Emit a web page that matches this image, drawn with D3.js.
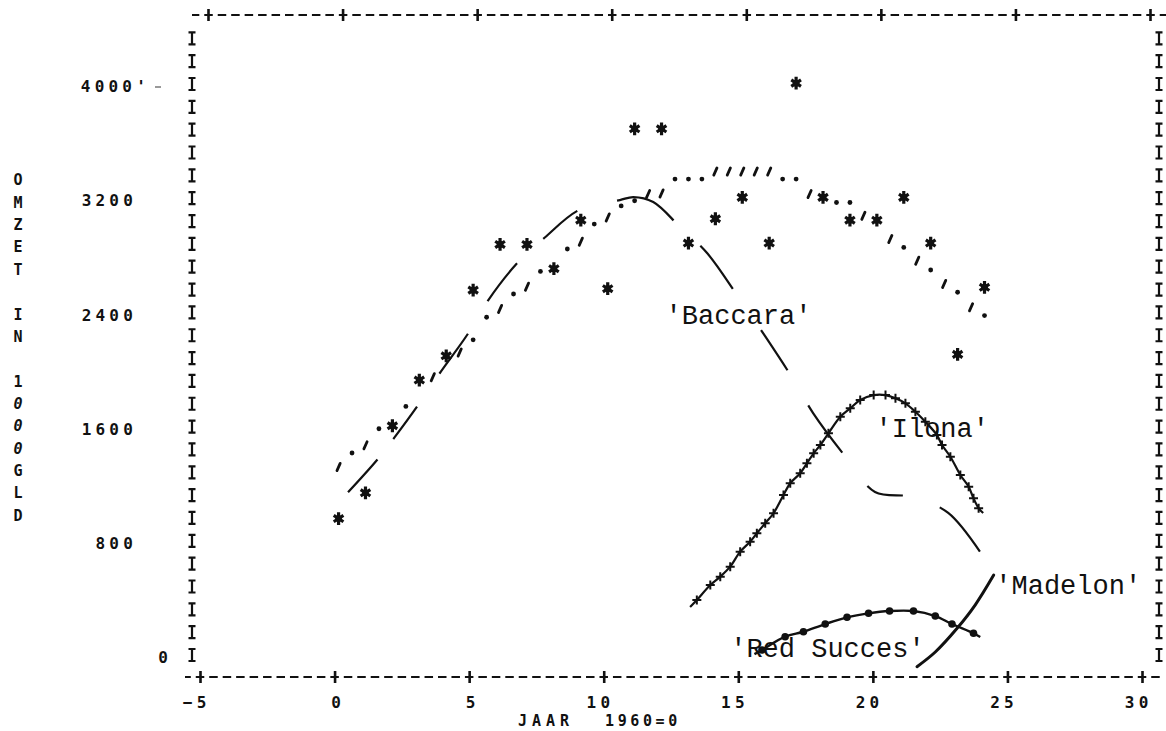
<!DOCTYPE html>
<html>
<head>
<meta charset="utf-8">
<script src="https://cdn.jsdelivr.net/npm/d3@7"></script>
<style>
  body { margin: 0; background: #fff; }
  svg { display: block; }
  .ax text { font-family: "DejaVu Sans Mono", monospace; font-weight: bold; font-size: 16px; letter-spacing: 4.2px; fill: #111; }
  .lbl { font-family: "Liberation Mono", "Courier New", monospace; font-size: 27px; fill: #111; white-space: pre; }
</style>
</head>
<body>
<svg id="chart" width="1166" height="731"></svg>
<script>
// Turnover (x 1000 guilders) per year since 1960: observed Baccara sales,
// the fitted Baccara trend, and the curves for Ilona, Madelon and Red Succes.

const yearTicks = [-5, 0, 5, 10, 15, 20, 25, 30];
const valueTicks = [0, 800, 1600, 2400, 3200, 4000];
const valueTickLabels = ["0", "800", "1600", "2400", "3200", "4000'"];
const titleChars = ["O", "M", "Z", "E", "T", "", "I", "N", "", "1", "0", "0", "0", "G", "L", "D"];
const xTitleWords = ["JAAR", "1960=0"];

// observed yearly turnover, printed as stars
const salesYears  = [0, 1, 2, 3, 4, 5, 6, 7, 8, 9, 10, 11, 12, 13, 14, 15, 16, 17, 18, 19, 20, 21, 22, 23, 24];
const salesValues = [970, 1150, 1620, 1940, 2110, 2570, 2890, 2890, 2720, 3060, 2580, 3700, 3700,
                     2900, 3070, 3220, 2900, 4020, 3220, 3060, 3060, 3220, 2900, 2120, 2590];

// fitted trend, printed as dots and primes every half year
const trendYears  = [0, 0.5, 1, 1.5, 2.5, 3.5, 4.5, 5, 5.5, 6, 6.5, 7, 7.5, 8.5, 9, 9.5, 10, 10.5, 11,
                     11.5, 12, 12.5, 13, 13.5, 14, 14.5, 15, 15.5, 16, 16.5, 17, 17.5, 18.5, 19, 19.5,
                     20.5, 21, 21.5, 22, 22.5, 23, 23.5, 24];
const trendValues = [1331, 1429, 1483, 1599, 1755, 1960, 2133, 2222, 2380, 2438, 2543, 2594, 2701, 2858,
                     2909, 3033, 3079, 3160, 3196, 3243, 3247, 3348, 3348, 3348, 3401, 3401, 3401, 3401,
                     3401, 3348, 3348, 3243, 3184, 3184, 3091, 2928, 2869, 2776, 2711, 2613, 2555, 2450, 2392];

// Baccara curve (long dashes)
const baccaraYears  = [0.5, 1.6, 2.2, 3.07, 3.9, 4.96, 5.7, 6.8, 7.8, 9.1, 10.6, 11.1, 11.84, 12.84, 13.84,
                       15.0, 16.04, 17.01, 17.78, 19.08, 20.08, 21.5, 22.8, 24.06];
const baccaraValues = [1154, 1385, 1531, 1755, 1986, 2266, 2497, 2762, 2937, 3133, 3201, 3222, 3187, 3012,
                       2830, 2522, 2235, 1954, 1709, 1380, 1156, 1121, 1009, 715];

// Ilona curve with + markers
const ilonaYears  = [13.21, 13.46, 13.96, 14.33, 14.70, 15.07, 15.44, 15.69, 16.0, 16.31, 16.68, 16.93, 17.30,
                     17.55, 17.80, 18.05, 18.35, 18.79, 19.16, 19.53, 20.03, 20.47, 20.84, 21.21, 21.58,
                     21.95, 22.38, 22.57, 22.88, 23.25, 23.56, 23.74, 23.93, 24.1];
const ilonaValues = [350, 399, 504, 563, 633, 738, 808, 867, 937, 1007, 1135, 1217, 1287, 1357, 1427, 1485,
                     1567, 1683, 1742, 1800, 1835, 1835, 1812, 1777, 1718, 1648, 1555, 1485, 1403, 1275,
                     1193, 1112, 1042, 1009];

// Red Succes curve with round markers
const redYears  = [15.6, 15.88, 16.74, 17.42, 18.23, 19.04, 19.84, 20.62, 21.51, 22.32, 22.94, 23.74, 23.99];
const redValues = [20, 49, 142, 177, 231, 278, 306, 322, 322, 287, 231, 166, 140];

// Madelon curve (solid)
const madelonYears  = [21.64, 22.32, 23.13, 23.8, 24.49];
const madelonValues = [-68, 35, 201, 364, 574];

const svg = d3.select("#chart");
const x = d3.scaleLinear().domain([-5, 30]).range([200, 1142]);
const y = d3.scaleLinear().domain([0, 4000]).range([657, 86]);
const ink = "#111";
const CHAR_DX = 4;          // printed characters sit slightly right of their column
const ROW = 160;            // one printer row in value units

// ---- frame: dashed borders with + ticks
const xBottom = 677, xTop = 15, topShift = 8.5;
const period = (x(1) - x(0)) / 2;
function dashedRule(yy, x0, x1, shift) {
  const phase = (x(-5) + shift - period / 2 + 2.5) - x0;
  svg.append("line").attr("x1", x0).attr("x2", x1).attr("y1", yy).attr("y2", yy)
    .attr("stroke", ink).attr("stroke-width", 2)
    .attr("stroke-dasharray", `8.5 ${period - 8.5}`)
    .attr("stroke-dashoffset", -phase);
}
dashedRule(xBottom, 185, 1163, 0);
dashedRule(xTop, 192, 1166, topShift);

// top ticks
svg.append("g").selectAll("line").data(yearTicks).join("line")
  .attr("x1", d => x(d) + topShift).attr("x2", d => x(d) + topShift)
  .attr("y1", xTop - 6).attr("y2", xTop + 6)
  .attr("stroke", ink).attr("stroke-width", 2.6);

// bottom axis
const gx = svg.append("g").attr("class", "ax").attr("transform", `translate(0,${xBottom})`)
  .call(d3.axisBottom(x).tickValues(yearTicks).tickSize(0).tickFormat(d3.format("d")));
gx.select(".domain").remove();
gx.selectAll(".tick").append("line")
  .attr("y1", -6).attr("y2", 6).attr("stroke", ink).attr("stroke-width", 2.6);
gx.selectAll(".tick text").attr("y", 31).attr("dy", 0)
  .attr("text-anchor", "end").attr("x", 10);

// x-axis title, two words spaced apart
svg.append("g").selectAll("text").data(xTitleWords).join("text")
  .attr("x", (d, i) => i === 0 ? 518 : 605).attr("y", 726)
  .style("font-family", "DejaVu Sans Mono, monospace").style("font-weight", "bold")
  .style("font-size", "15px").style("letter-spacing", (d, i) => i === 0 ? "5px" : "3.6px")
  .style("fill", ink)
  .text(d => d);

// left axis labels
const gy = svg.append("g").attr("class", "ax")
  .call(d3.axisLeft(y).tickValues(valueTicks).tickSize(0)
    .tickFormat((d, i) => valueTickLabels[i]));
gy.select(".domain").remove();
gy.selectAll(".tick text")
  .attr("text-anchor", "end")
  .attr("x", d => d === 0 ? 172 : (d === 4000 ? 150 : 137))
  .attr("dy", "0.36em");
// stray prime beside the top label
svg.append("line").attr("x1", 155).attr("x2", 161).attr("y1", y(4000) + 1).attr("y2", y(4000) + 1)
  .attr("stroke", "#555").attr("stroke-width", 1.2);

// vertical title
svg.append("g").selectAll("text").data(titleChars).join("text")
  .attr("x", 18).attr("y", (d, i) => 180 + i * 22.35)
  .attr("dy", "0.36em").attr("text-anchor", "middle")
  .style("font-family", "DejaVu Sans Mono, monospace").style("font-weight", "bold")
  .style("font-size", "15px").style("fill", ink)
  .style("font-style", (d, i) => (i >= 10 && i <= 12) ? "italic" : "normal")
  .text(d => d);

// ---- printed I columns on both sides
const rowValues = d3.range(0, 28).map(k => k * ROW);
function iGlyph(cx, cy) {
  return `M${cx - 3.5},${cy - 6}H${cx + 3.5}M${cx},${cy - 6}V${cy + 6}M${cx - 3.5},${cy + 6}H${cx + 3.5}`;
}
[192, 1159].forEach(cx => {
  svg.append("path")
    .attr("d", rowValues.map(v => iGlyph(cx, y(v) - 2)).join(""))
    .attr("stroke", ink).attr("stroke-width", 2.2).attr("fill", "none");
});

// ---- Baccara curve, long dashes of varying length
const line = d3.line().x(d => x(d[0])).y(d => y(d[1])).curve(d3.curveCatmullRom.alpha(0.5));
svg.append("path")
  .attr("d", line(d3.zip(baccaraYears, baccaraValues)))
  .attr("fill", "none").attr("stroke", ink).attr("stroke-width", 2.2)
  .attr("stroke-dasharray", "44 26 40 40 49 38 48 36 44 41 65 37 54 50 48 41 58 42 38 39 60 200");

// ---- Ilona curve with + markers
const ilona = d3.zip(ilonaYears, ilonaValues);
svg.append("path").attr("d", line(ilona))
  .attr("fill", "none").attr("stroke", ink).attr("stroke-width", 2.2);
svg.append("path")
  .attr("d", ilona.slice(1, -1).map(([t, v]) => {
    const cx = x(t), cy = y(v);
    return `M${cx - 4.5},${cy}H${cx + 4.5}M${cx},${cy - 4.5}V${cy + 4.5}`;
  }).join(""))
  .attr("stroke", ink).attr("stroke-width", 2);

// ---- Red Succes curve with round markers
const red = d3.zip(redYears, redValues);
svg.append("path").attr("d", line(red))
  .attr("fill", "none").attr("stroke", ink).attr("stroke-width", 2.4);
svg.append("g").selectAll("circle").data(red.slice(1, -1)).join("circle")
  .attr("cx", d => x(d[0])).attr("cy", d => y(d[1])).attr("r", 3.8).attr("fill", ink);

// ---- Madelon curve
svg.append("path").attr("d", line(d3.zip(madelonYears, madelonValues)))
  .attr("fill", "none").attr("stroke", ink).attr("stroke-width", 3).attr("stroke-linecap", "round");

// ---- trend marks: '.' on a row, prime between rows
const trend = d3.zip(trendYears, trendValues);
const g = svg.append("g");
trend.forEach(([t, v]) => {
  const f = (v / ROW) % 1;
  const cx = x(t) + CHAR_DX, cy = y(v);
  if (f > 0.1 && f < 0.6) {
    g.append("line").attr("x1", cx - 1.6).attr("y1", cy + 3.6).attr("x2", cx + 1.6).attr("y2", cy - 3.6)
      .attr("stroke", ink).attr("stroke-width", 2.8).attr("stroke-linecap", "round");
  } else {
    g.append("circle").attr("cx", cx).attr("cy", cy).attr("r", 2.4).attr("fill", ink);
  }
});

// ---- observed sales, printed as stars
const starPath = (cx, cy) => [90, 30, 150].map(a => {
  const r = a * Math.PI / 180, dx = 5.6 * Math.cos(r), dy = 6.4 * Math.sin(r);
  return `M${cx - dx},${cy - dy}L${cx + dx},${cy + dy}`;
}).join("");
svg.append("g").selectAll("path").data(d3.zip(salesYears, salesValues)).join("path")
  .attr("d", d => starPath(x(d[0]) + CHAR_DX, y(d[1])))
  .attr("stroke", ink).attr("stroke-width", 3.2).attr("stroke-linecap", "butt");
svg.append("g").selectAll("circle").data(d3.zip(salesYears, salesValues)).join("circle")
  .attr("cx", d => x(d[0]) + CHAR_DX).attr("cy", d => y(d[1])).attr("r", 3.4).attr("fill", ink);

// ---- curve names
const names = [
  { text: "'Baccara'",    t: 12.3, v: 2330 },
  { text: "'Ilona'",      t: 20.1, v: 1540 },
  { text: "'Madelon'",    t: 24.55, v: 440 },
  { text: "'Red Succes'", t: 14.7, v: 0 }
];
svg.append("g").selectAll("text").data(names).join("text")
  .attr("class", "lbl")
  .attr("x", d => x(d.t)).attr("y", d => y(d.v))
  .text(d => d.text);
</script>
</body>
</html>
